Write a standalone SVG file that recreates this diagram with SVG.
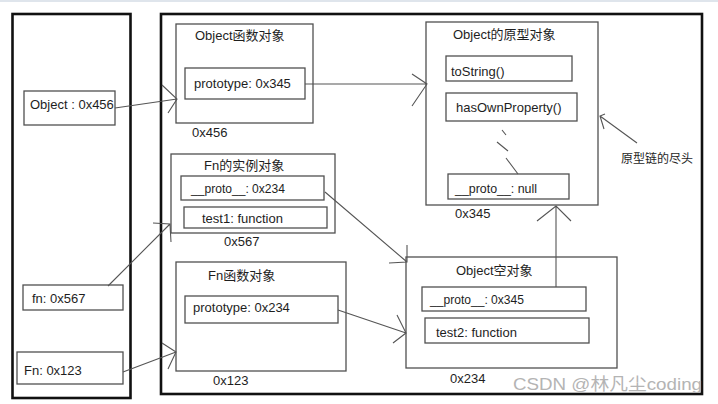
<svg xmlns="http://www.w3.org/2000/svg" width="718" height="404" viewBox="0 0 718 404">
<style>
  text { font-family: "Liberation Sans", Arial, "Noto Sans CJK SC", sans-serif; font-size: 13px; fill: #1e1e1e; }
  .frame { fill: none; stroke: #111; stroke-width: 2.6; }
  .box { fill: none; stroke: #505050; stroke-width: 1.3; }
  .line { fill: none; stroke: #555; stroke-width: 1.1; }
  .small { font-size: 12px; }
  .wm { font-size: 17px; fill: #b4b4b4; }
</style>
<rect x="0" y="0" width="718" height="404" fill="#ffffff"/>
<rect x="0" y="0" width="718" height="2" fill="#dfe5ec"/>

<g id="stack">
  <rect class="frame" x="12.5" y="14" width="118" height="384"/>
</g>
<g id="heap">
  <rect class="frame" x="161" y="14" width="541" height="380"/>
</g>

<g id="var-object">
  <rect class="box" x="24" y="91" width="91" height="34"/>
  <text x="30" y="109">Object : 0x456</text>
</g>
<g id="var-fn">
  <rect class="box" x="23" y="285" width="100" height="25"/>
  <text x="32" y="303">fn: 0x567</text>
</g>
<g id="var-Fn">
  <rect class="box" x="17" y="352" width="106" height="32"/>
  <text x="24" y="375">Fn: 0x123</text>
</g>

<g id="object-func">
  <rect class="box" x="176" y="24" width="137" height="99"/>
  <text x="195" y="40">Object函数对象</text>
  <rect class="box" x="185" y="68" width="120" height="31"/>
  <text x="194" y="88">prototype: 0x345</text>
  <text x="192" y="137">0x456</text>
</g>

<g id="fn-instance">
  <rect class="box" x="171" y="154" width="164" height="79"/>
  <text x="204" y="170">Fn的实例对象</text>
  <rect class="box" x="181" y="176" width="143" height="24"/>
  <text x="191" y="193" textLength="94" lengthAdjust="spacingAndGlyphs">__proto__: 0x234</text>
  <rect class="box" x="184" y="207" width="143" height="21"/>
  <text x="202" y="223">test1: function</text>
  <text x="224" y="246">0x567</text>
</g>

<g id="fn-func">
  <rect class="box" x="176" y="262" width="170" height="109"/>
  <text x="208" y="280">Fn函数对象</text>
  <rect class="box" x="185" y="296" width="153" height="27"/>
  <text x="193" y="312">prototype: 0x234</text>
  <text x="213" y="385">0x123</text>
</g>

<g id="object-proto">
  <rect class="box" x="426" y="22" width="172" height="183"/>
  <text x="453" y="39">Object的原型对象</text>
  <rect class="box" x="446" y="56" width="126" height="25"/>
  <text x="451" y="76">toString()</text>
  <rect class="box" x="446" y="93" width="131" height="28"/>
  <text x="456" y="112">hasOwnProperty()</text>
  <rect class="box" x="448" y="174" width="121" height="25"/>
  <text x="455" y="193" textLength="82" lengthAdjust="spacingAndGlyphs">__proto__: null</text>
  <text x="455" y="218">0x345</text>
</g>

<g id="object-empty">
  <rect class="box" x="406" y="257" width="211" height="111"/>
  <text x="456" y="275">Object空对象</text>
  <rect class="box" x="422" y="287" width="164" height="24"/>
  <text x="430" y="304" textLength="94" lengthAdjust="spacingAndGlyphs">__proto__: 0x345</text>
  <rect class="box" x="425" y="318" width="164" height="25"/>
  <text x="436" y="337">test2: function</text>
  <text x="450" y="383">0x234</text>
</g>

<g id="note">
  <text class="small" x="621" y="163">原型链的尽头</text>
</g>

<g id="connectors">
  <path class="line" d="M115,108 L177,99 M162,85 L177,99 L168,113"/>
  <path class="line" d="M108,286 L170,224 M153,223 L170,224 L171,242"/>
  <path class="line" d="M123,372 L176,352 M162,343 L176,352 L168,369"/>
  <path class="line" d="M305,84 L427,84 M412,74 L427,84 L412,106"/>
  <path class="line" d="M325,192 L407,262 M389,263 L407,262 L407,245"/>
  <path class="line" d="M338,310 L406,333 M397,315 L406,333 L393,343"/>
  <path class="line" d="M556,287 L556,206 M537,221 L556,206 L571,221"/>
  <path class="line" d="M637,143 L600,116 M605,114 L600,116 L604,129"/>
  <path class="line" d="M502,130 L506,135 M497,142 L508,151 M506,158 L518,174"/>
</g>

<text class="wm" x="513" y="390" textLength="189" lengthAdjust="spacingAndGlyphs">CSDN @林凡尘coding</text>
</svg>
